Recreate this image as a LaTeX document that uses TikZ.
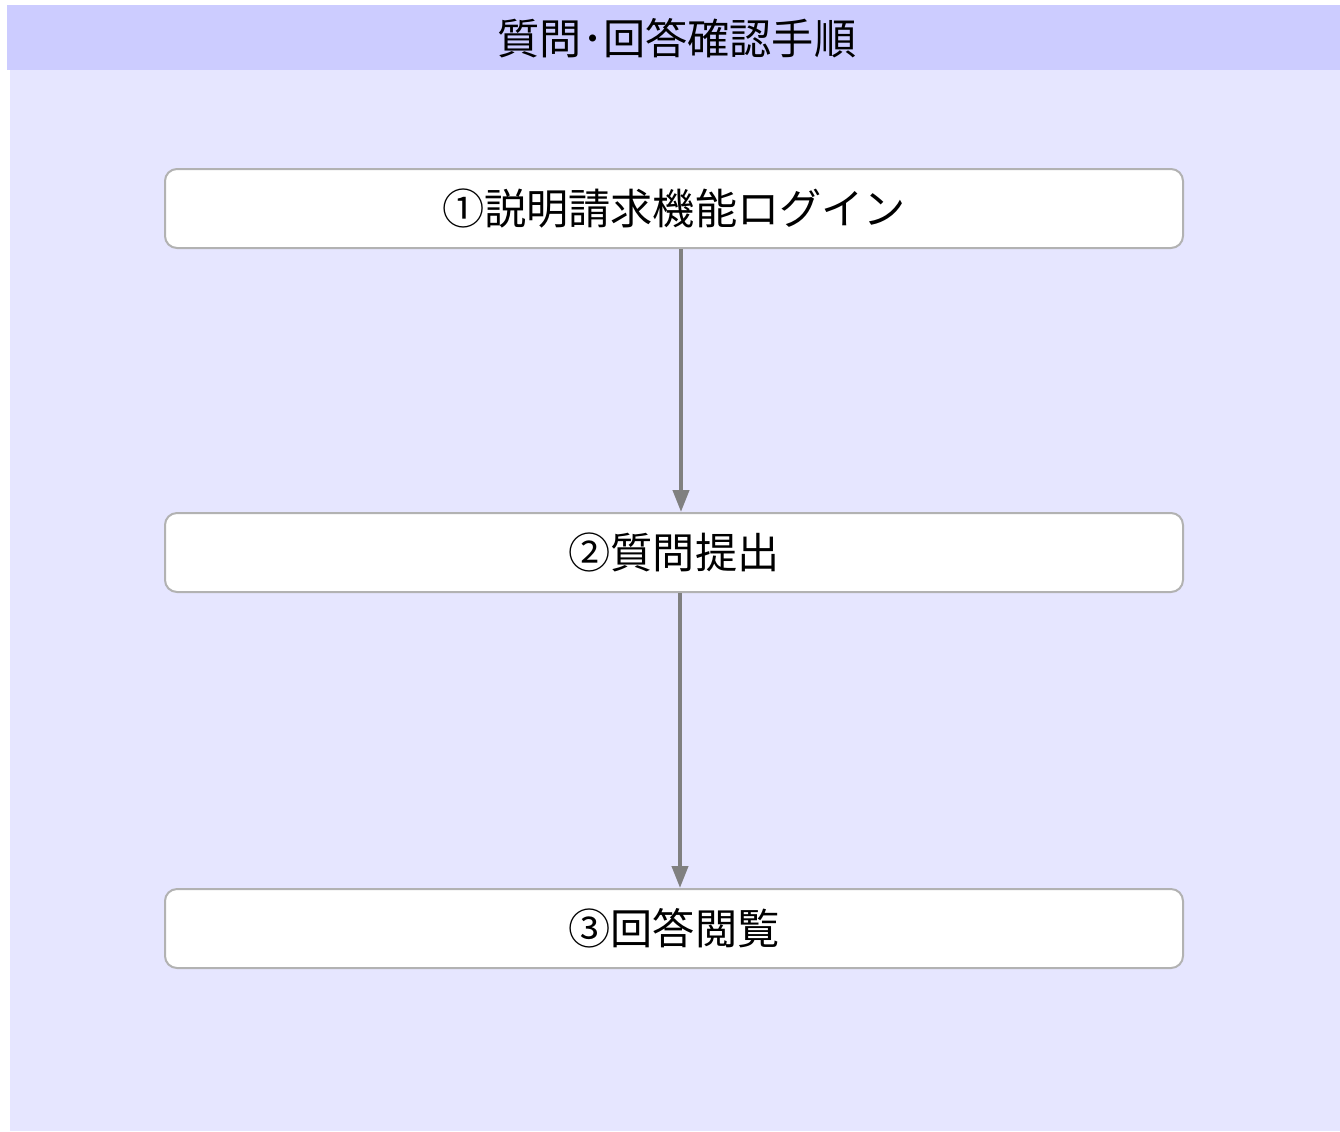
\documentclass[tikz,border=0pt]{standalone}
\usepackage{fontspec}
\setmainfont{Noto Sans CJK JP}
\usetikzlibrary{arrows.meta}

\definecolor{headblue}{RGB}{204,204,255}
\definecolor{bodyblue}{RGB}{230,230,255}
\definecolor{boxline}{RGB}{178,178,178}
\definecolor{arrowgray}{RGB}{128,128,128}

\tikzset{
  stepbox/.style={draw=boxline, line width=0.02cm, fill=white, rounded corners=0.12cm,
    minimum width=10.18cm, minimum height=0.79cm, font=\fontsize{12pt}{14pt}\selectfont},
  flow/.style={draw=arrowgray, line width=0.04cm, -{Triangle[width=0.16cm,length=0.22cm]}}
}

\begin{document}
\begin{tikzpicture}
\useasboundingbox (0,0) rectangle (13.4,-11.31);
%\draw [lightgray](0,0) grid (13.4,-11.31);
\fill [bodyblue](0.10,-0.70) rectangle (13.4,-11.31);
\fill [headblue](0.07,-0.05) rectangle (13.4,-0.70);

\node (title) [font=\fontsize{12pt}{14pt}\selectfont] at (6.77,-0.38){質問･回答確認手順};

\node (login) [stepbox] at (6.74,-2.085){①説明請求機能ログイン};
\node (ask) [stepbox] at (6.74,-5.525){②質問提出};
\node (answer) [stepbox] at (6.74,-9.285){③回答閲覧};

\draw [flow]([xshift=0.07cm]login.south) -- ([xshift=0.07cm]ask.north);
\draw [flow]([xshift=0.06cm]ask.south) -- ([xshift=0.06cm]answer.north);
\end{tikzpicture}
\end{document}
